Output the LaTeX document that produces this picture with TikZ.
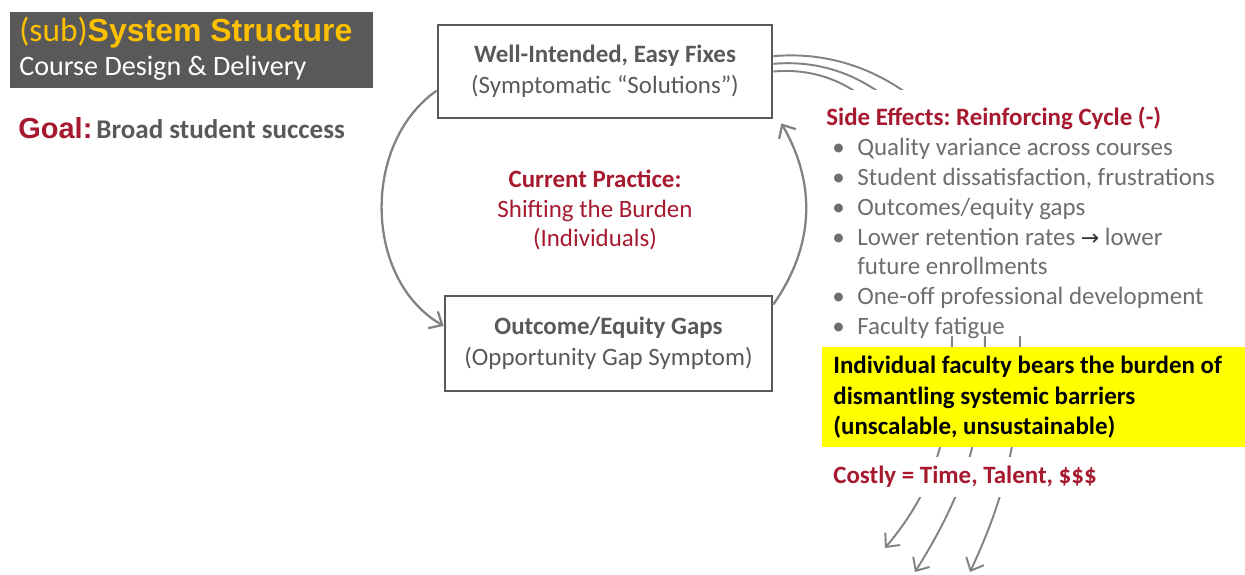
\documentclass[tikz,border=0pt]{standalone}
\usepackage{fontspec}
\setmainfont{Carlito}
\newfontfamily\arialfont{Liberation Sans}
\newfontfamily\arrowfont{DejaVu Sans}
\usetikzlibrary{calc,arrows.meta}

\definecolor{titlegray}{HTML}{595959}
\definecolor{boxgray}{HTML}{595959}
\definecolor{bulletgray}{HTML}{6E6E6E}
\definecolor{goalred}{HTML}{A6192E}
\definecolor{titleyellow}{HTML}{FFC000}
\definecolor{linegray}{HTML}{828282}
\definecolor{burdenyellow}{RGB}{255,255,0}

\newcommand\bul{\hspace*{0.12cm}\makebox[0.5cm][l]{\textbullet}}
\frenchspacing

\begin{document}
\begin{tikzpicture}
[x=0.02cm,y=-0.02cm,
>={Straight Barb[length=6pt,width=11pt]},
fixbox/.style={draw=boxgray,line width=1.6pt,fill=white,text=boxgray,align=center,
  font=\fontsize{14.2}{17.6}\selectfont},
loop/.style={linegray,line width=1.3pt,->},
sidecurve/.style={linegray,line width=1.1pt,->},
]
\useasboundingbox (0,0) rectangle (1245,575);

% title block
\fill[titlegray] (10,12) rectangle (373,88);
\node[anchor=west,inner sep=0,text=titleyellow] (title) at (19,33)
  {\fontsize{19}{22}\selectfont(sub)\arialfont\bfseries\fontsize{18.2}{22}\selectfont System Structure};
\node[anchor=west,inner sep=0,text=white] (subtitle) at (19,68)
  {\fontsize{16}{19}\selectfont Course Design \& Delivery};
\node[anchor=west,inner sep=0] (goal) at (18,128)
  {{\color{goalred}\arialfont\bfseries\fontsize{16.5}{18}\selectfont Goal:}
   {\color{titlegray}\bfseries\fontsize{15.4}{18}\selectfont Broad student success}};

% the loop
\node[fixbox,minimum width=6.68cm,minimum height=1.86cm] (fixes) at (605,71.5)
  {\textbf{Well-Intended, Easy Fixes}\\(Symptomatic “Solutions”)};
\node[fixbox,minimum width=6.54cm,minimum height=1.9cm] (gaps) at (608.5,343.5)
  {\textbf{Outcome/Equity Gaps}\\(Opportunity Gap Symptom)};
\node[text=goalred,align=center,font=\fontsize{14.2}{17}\selectfont] (practice) at (595,210)
  {\textbf{Current Practice:}\\Shifting the Burden\\(Individuals)};

\draw[loop] ($(fixes.north west)!0.7!(fixes.south west)$) to[out=215,in=150]
  ($(gaps.north west)!0.32!(gaps.south west)$);
\draw[loop] ($(gaps.north east)!0.1!(gaps.south east)$) to[out=55,in=-60]
  ($(fixes.south east)+(8,4)$);

% side effects running out of the fixes
\coordinate (cost1) at (970,572);
\coordinate (cost2) at (915,572);
\coordinate (cost3) at (885,548);
\draw[sidecurve] ($(fixes.north east)!0.34!(fixes.south east)$) to[out=5,in=90] (1020,330)
  to[out=-90,in=65] (cost1);
\draw[sidecurve] ($(fixes.north east)!0.42!(fixes.south east)$) to[out=5,in=90] (985,330)
  to[out=-90,in=58] (cost2);
\draw[sidecurve] ($(fixes.north east)!0.5!(fixes.south east)$) to[out=5,in=90] (952,330)
  to[out=-90,in=50] (cost3);

\fill[white] (815,90) rectangle (1240,336);
\node[anchor=west,inner sep=0,align=left,text=bulletgray,
  font=\fontsize{14.2}{17}\selectfont] (effects) at (826,223)
  {\textcolor{goalred}{\textbf{Side Effects: Reinforcing Cycle (-)}}\\
   \bul Quality variance across courses\\
   \bul Student dissatisfaction, frustrations\\
   \bul Outcomes/equity gaps\\
   \bul Lower retention rates {\arrowfont\color{black!80}\fontsize{12.5}{17}\selectfont→} lower\\
   \hspace*{0.62cm}future enrollments\\
   \bul One-off professional development\\
   \bul Faculty fatigue};

\node[fill=burdenyellow,anchor=north west,minimum height=2cm,inner xsep=0.22cm,
  text width=8.02cm,align=flush left,font=\bfseries\fontsize{14.2}{17.3}\selectfont] (burden) at (822,347)
  {Individual faculty bears the burden of\\dismantling systemic barriers\\(unscalable, unsustainable)};
\node[fill=white,anchor=west,minimum height=0.8cm,inner xsep=0.22cm,text width=6.12cm,
  align=flush left,text=goalred,font=\bfseries\fontsize{14.2}{15}\selectfont] (costly) at (822,477)
  {Costly = Time, Talent, \$\$\$};
\end{tikzpicture}
\end{document}
